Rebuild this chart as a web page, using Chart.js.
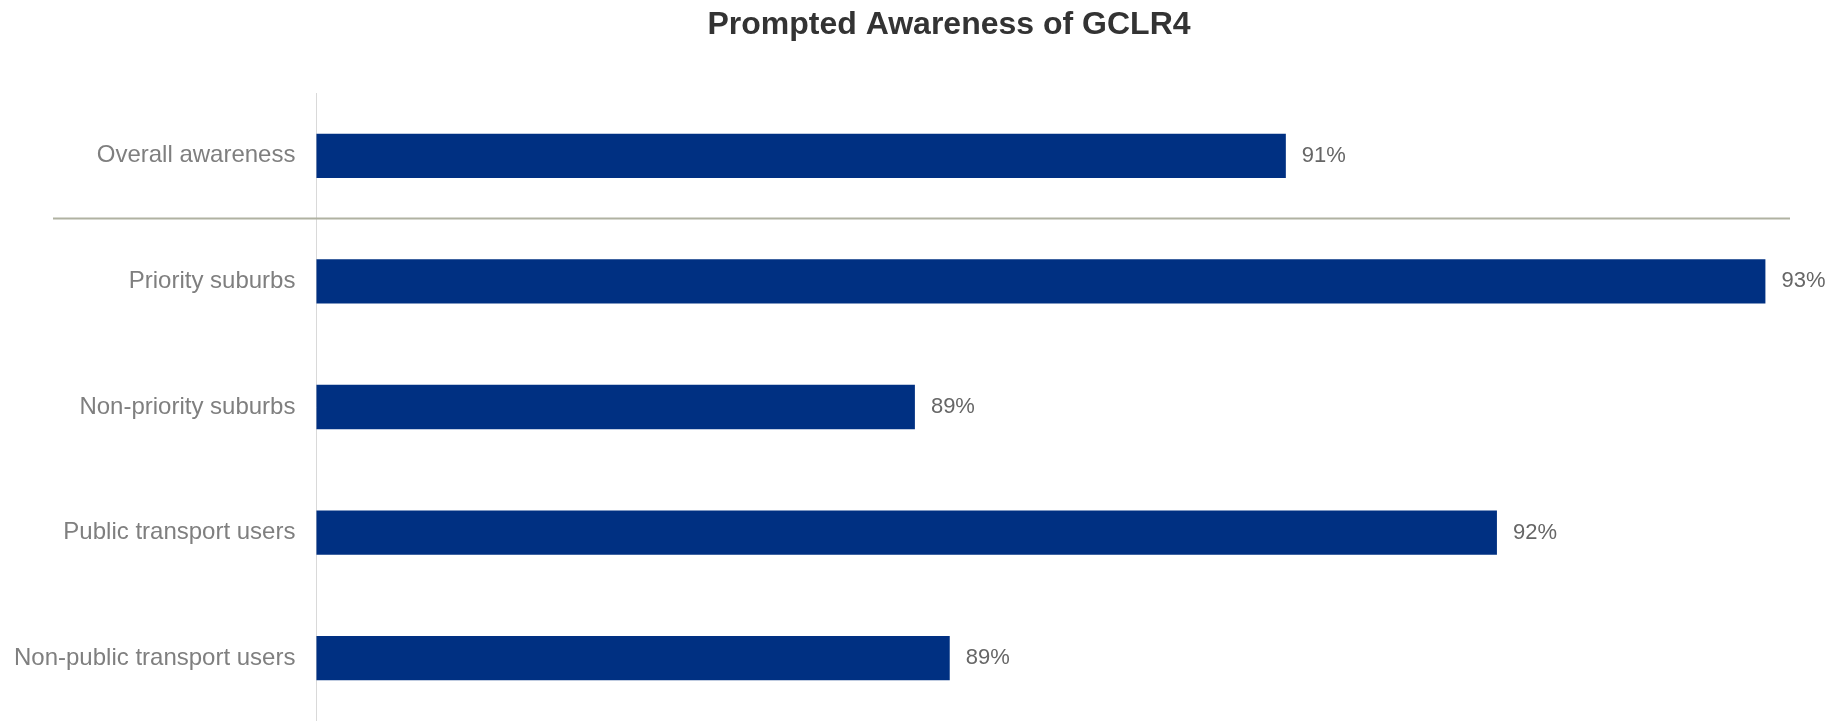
<!DOCTYPE html>
<html>
<head>
<meta charset="utf-8">
<script src="https://cdn.jsdelivr.net/npm/chart.js@4.4.1/dist/chart.umd.min.js"></script>
<style>
  html, body { margin: 0; padding: 0; background: #fff; }
  #wrap { width: 1837px; height: 721px; position: relative; }
</style>
</head>
<body>
<div id="wrap"><canvas id="chart"></canvas></div>
<script>
var chartTitle = 'Prompted Awareness of GCLR4';
var categories = ['Overall awareness', 'Priority suburbs', 'Non-priority suburbs', 'Public transport users', 'Non-public transport users'];
var awareness = [90.73, 93.07, 88.92, 91.76, 89.09];
var axisMin = 86;
var axisMax = 93.19;

var FONT = '"Liberation Sans", Arial, sans-serif';

// title drawn by hand, it sits a bit right of the canvas centre in the original
var titlePlugin = {
  id: 'titleText',
  afterDraw: function (chart) {
    var ctx = chart.ctx;
    ctx.save();
    ctx.font = 'bold 32px ' + FONT;
    ctx.fillStyle = '#333333';
    ctx.textAlign = 'center';
    ctx.textBaseline = 'alphabetic';
    ctx.fillText(chartTitle, chart.width * 0.5166, 34);
    ctx.restore();
  }
};

// line splitting "Overall" from the sub groups
var separatorPlugin = {
  id: 'separator',
  afterDraw: function (chart) {
    var y = chart.scales.y;
    var mid = (y.getPixelForValue(0) + y.getPixelForValue(1)) / 2;
    var ctx = chart.ctx;
    ctx.save();
    ctx.strokeStyle = '#b0b2a2';
    ctx.lineWidth = 2;
    ctx.beginPath();
    ctx.moveTo(53, mid);
    ctx.lineTo(chart.chartArea.right, mid);
    ctx.stroke();
    ctx.restore();
  }
};

var valueLabels = {
  id: 'valueLabels',
  afterDatasetsDraw: function (chart) {
    var ctx = chart.ctx;
    var meta = chart.getDatasetMeta(0);
    ctx.save();
    ctx.font = '22px ' + FONT;
    ctx.fillStyle = '#666666';
    ctx.textAlign = 'left';
    ctx.textBaseline = 'middle';
    meta.data.forEach(function (bar, i) {
      var v = chart.data.datasets[0].data[i];
      ctx.fillText(Math.round(v) + '%', bar.x + 16, bar.y);
    });
    ctx.restore();
  }
};

new Chart(document.getElementById('chart'), {
  type: 'bar',
  data: {
    labels: categories,
    datasets: [{
      data: awareness,
      backgroundColor: '#003082',
      borderWidth: 0,
      barPercentage: 0.353,
      categoryPercentage: 1
    }]
  },
  options: {
    indexAxis: 'y',
    responsive: true,
    maintainAspectRatio: false,
    animation: false,
    layout: { padding: { top: 93, right: 47, bottom: -2, left: 14 } },
    plugins: {
      legend: { display: false },
      title: { display: false },
      tooltip: { enabled: false }
    },
    scales: {
      x: {
        min: axisMin,
        max: axisMax,
        display: false
      },
      y: {
        grid: { display: false, drawTicks: false },
        border: { display: true, color: '#d9d9d9', width: 1 },
        ticks: {
          color: '#7f7f7f',
          padding: 21,
          font: { family: FONT, size: 24 }
        },
        afterFit: function (scale) {
          // chart.js counts the tick padding twice and pads the ends for labels
          scale.width -= scale.options.ticks.padding;
          scale.paddingTop = 0;
          scale.paddingBottom = 0;
        }
      }
    }
  },
  plugins: [titlePlugin, separatorPlugin, valueLabels]
});
</script>
</body>
</html>
